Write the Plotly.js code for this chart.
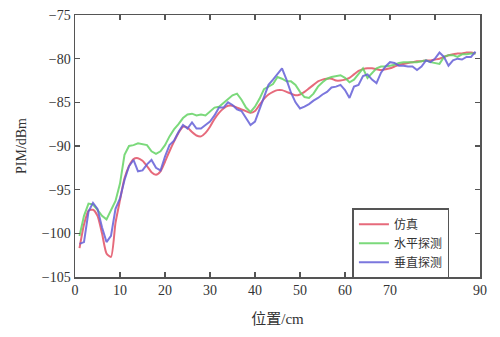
<!DOCTYPE html>
<html>
<head>
<meta charset="utf-8">
<script src="https://cdn.plot.ly/plotly-3.0.1.min.js"></script>
<style>html,body{margin:0;padding:0;background:#fff;}#chart{width:500px;height:337px;}</style>
</head>
<body>
<div id="chart"></div>
<script>
var positions = [];
for (var i = 1; i <= 89; i++) positions.push(i);

var simulation = [-101.7,-99.0,-97.4,-97.3,-98.0,-100.0,-102.3,-102.7,-98.8,-96.2,
-93.7,-92.3,-91.5,-91.4,-91.7,-92.3,-93.0,-93.3,-92.9,-91.8,
-90.6,-89.5,-88.5,-87.8,-87.9,-88.4,-88.8,-88.9,-88.5,-87.8,
-86.9,-86.2,-85.7,-85.4,-85.4,-85.6,-85.8,-86.0,-86.2,-86.0,
-85.3,-84.6,-84.1,-83.8,-83.6,-83.6,-83.8,-84.0,-84.2,-84.1,
-83.8,-83.4,-83.0,-82.6,-82.4,-82.3,-82.3,-82.5,-82.5,-82.4,
-82.2,-81.8,-81.4,-81.2,-81.1,-81.1,-81.2,-81.3,-81.2,-81.1,
-80.9,-80.7,-80.6,-80.5,-80.4,-80.3,-80.3,-80.2,-80.2,-80.1,
-80.0,-79.8,-79.6,-79.5,-79.4,-79.4,-79.3,-79.3,-79.4];

var horizontal = [-100.3,-98.0,-96.6,-96.7,-97.3,-98.0,-98.4,-97.4,-96.3,-94.3,
-91.0,-90.0,-89.9,-89.7,-89.8,-89.9,-90.6,-90.9,-90.6,-89.9,
-88.9,-88.1,-87.5,-86.8,-86.4,-86.3,-86.5,-86.4,-86.5,-86.0,
-85.6,-85.5,-85.1,-84.6,-84.2,-84.0,-84.7,-85.6,-86.1,-85.5,
-84.6,-83.5,-83.2,-82.9,-82.1,-82.3,-82.6,-82.6,-83.0,-83.8,
-84.4,-84.5,-84.0,-83.2,-82.7,-82.3,-82.1,-82.0,-81.9,-82.2,
-82.7,-82.4,-81.8,-81.1,-82.2,-81.6,-81.1,-80.9,-80.9,-80.8,
-80.7,-80.5,-80.4,-80.4,-80.4,-80.4,-80.3,-80.2,-80.4,-80.5,
-80.6,-79.8,-79.6,-79.6,-79.8,-79.5,-79.5,-79.4,-79.4];

var vertical = [-101.2,-101.0,-97.5,-96.5,-97.2,-99.3,-101.0,-100.3,-97.2,-96.0,
-93.9,-92.3,-91.6,-92.9,-92.8,-92.1,-91.6,-92.5,-92.8,-91.2,
-89.9,-89.4,-88.4,-87.6,-88.0,-87.3,-88.0,-88.0,-87.6,-87.2,
-86.5,-85.6,-85.6,-85.0,-85.3,-85.8,-86.0,-86.8,-87.6,-87.2,
-85.8,-84.3,-83.0,-82.4,-81.8,-81.1,-82.4,-83.9,-85.0,-85.7,
-85.5,-85.2,-84.8,-84.5,-84.1,-83.8,-83.3,-83.2,-83.0,-83.6,
-84.5,-83.2,-83.0,-82.0,-81.8,-82.4,-82.8,-81.6,-80.9,-80.4,
-80.5,-80.8,-80.8,-80.9,-80.9,-81.3,-80.9,-80.2,-80.4,-80.0,
-79.3,-79.8,-80.8,-80.2,-80.0,-80.1,-79.8,-79.8,-79.2];

var seriesNames = ['仿真', '水平探测', '垂直探测'];
var xTickVals = [0, 10, 20, 30, 40, 50, 60, 70, 80, 90];
var xTickText = ['0', '10', '20', '30', '40', '50', '60', '70', '', '90'];
var yTickVals = [-105, -100, -95, -90, -85, -80, -75];

var serif = 'Liberation Serif, Noto Sans CJK SC, serif';

var traces = [
  {x: positions, y: simulation, name: seriesNames[0], mode: 'lines',
   line: {color: 'rgba(226,80,100,0.85)', width: 2, shape: 'spline', smoothing: 0.6}},
  {x: positions, y: horizontal, name: seriesNames[1], mode: 'lines',
   line: {color: 'rgba(100,210,100,0.85)', width: 2}},
  {x: positions, y: vertical, name: seriesNames[2], mode: 'lines',
   line: {color: 'rgba(100,95,215,0.85)', width: 2}}
];

var axisCommon = {
  showgrid: false, zeroline: false, showline: true, mirror: 'ticks',
  linecolor: '#555', linewidth: 1.5, ticks: 'inside', ticklen: 5,
  tickcolor: '#555', tickwidth: 1.5,
  tickfont: {family: serif, size: 14, color: '#333'}
};

var layout = {
  width: 500, height: 337,
  margin: {l: 75, r: 20, t: 15, b: 60},
  paper_bgcolor: '#fff', plot_bgcolor: '#fff',
  showlegend: true,
  legend: {
    x: 0.685, y: 0.262, xanchor: 'left', yanchor: 'top',
    bordercolor: '#555', borderwidth: 1.5, bgcolor: '#fff',
    font: {family: serif, size: 12, color: '#333'},
    tracegroupgap: 0, entrywidth: 100
  },
  xaxis: Object.assign({}, axisCommon, {
    range: [0, 90], tickmode: 'array', tickvals: xTickVals, ticktext: xTickText,
    title: {text: '位置/cm', font: {family: serif, size: 15, color: '#333'}, standoff: 16}
  }),
  yaxis: Object.assign({}, axisCommon, {
    range: [-105, -75], tickmode: 'array', tickvals: yTickVals,
    title: {text: 'PIM/dBm', font: {family: serif, size: 14, color: '#333'}, standoff: 12}
  })
};

Plotly.newPlot('chart', traces, layout, {displayModeBar: false, staticPlot: true});
</script>
</body>
</html>
